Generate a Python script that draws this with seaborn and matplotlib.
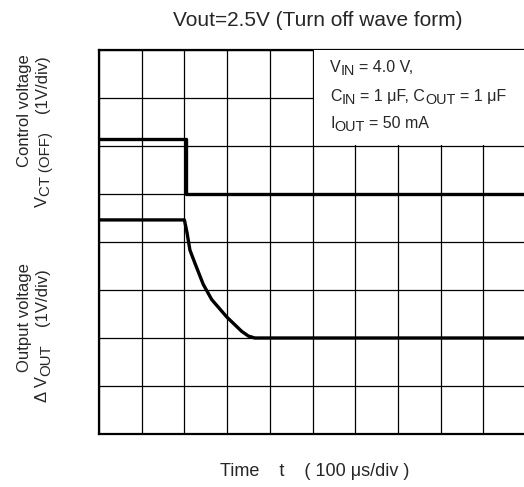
import matplotlib
matplotlib.use("Agg")
import matplotlib.pyplot as plt
import seaborn as sns
import pandas as pd
from matplotlib.patches import Rectangle

# ---- data (divisions) ----
ctrl_t = [0.0, 2.04, 2.04, 10.0]
ctrl_v = [6.15, 6.15, 5.0, 5.0]

out_t = [0.0, 2.0, 2.06, 2.13, 2.25, 2.44, 2.64, 2.99, 3.34, 3.5, 3.65, 10.0]
out_v = [4.46, 4.46, 4.2, 3.83, 3.55, 3.12, 2.8, 2.44, 2.14, 2.04, 2.0, 2.0]

title = "Vout=2.5V (Turn off wave form)"
xlabel = "Time    t    ( 100 μs/div )"
cond_lines = [
    [("V", 0), ("IN", 1), (" = 4.0 V,", 0)],
    [("C", 0), ("IN", 1), (" = 1 μF, C", 0), ("OUT", 1), (" = 1 μF", 0)],
    [("I", 0), ("OUT", 1), (" = 50 mA", 0)],
]
ylab_ctrl_1 = [("Control voltage", 0)]
ylab_ctrl_2 = [("V", 0), ("CT (OFF)", 1), ("    (1V/div)", 0)]
ylab_out_1 = [("Output voltage", 0)]
ylab_out_2 = [("Δ V", 0), ("OUT", 1), ("    (1V/div)", 0)]

sns.set_theme(style="white")
plt.rcParams["font.family"] = ["Liberation Sans", "DejaVu Sans"]

W, H = 524, 487
fig = plt.figure(figsize=(W / 100, H / 100), dpi=100)
ax = fig.add_axes([99 / W, (H - 434) / H, 427 / W, 384 / H])

df_c = pd.DataFrame({"t": ctrl_t, "v": ctrl_v})
df_o = pd.DataFrame({"t": out_t, "v": out_v})
sns.lineplot(data=df_c, x="t", y="v", ax=ax, color="black", lw=2.4, sort=False,
             estimator=None, zorder=5)
sns.lineplot(data=df_o, x="t", y="v", ax=ax, color="black", lw=2.4, sort=False,
             estimator=None, zorder=5)

ax.set_xlim(0, 10)
ax.set_ylim(0, 8)
ax.set_xticks(range(11))
ax.set_yticks(range(9))
ax.set_xticklabels([])
ax.set_yticklabels([])
ax.tick_params(length=0)
ax.grid(True, color="black", lw=0.9)
ax.set_xlabel("")
ax.set_ylabel("")
for s in ["left", "top", "bottom"]:
    ax.spines[s].set_visible(True)
    ax.spines[s].set_color("black")
    ax.spines[s].set_linewidth(1.6)
ax.spines["right"].set_visible(False)

ax.add_patch(Rectangle((5.04, 6.03), 5.0, 2.0, facecolor="white",
                       edgecolor="none", zorder=3))

renderer = fig.canvas.get_renderer()


def measure(s, size):
    if not s:
        return 0.0
    t1 = fig.text(0, 0, "|" + s + "|", fontsize=size)
    t2 = fig.text(0, 0, "||", fontsize=size)
    w = t1.get_window_extent(renderer).width - t2.get_window_extent(renderer).width
    t1.remove()
    t2.remove()
    return w


def rich(pieces, x0, y0, size, rot=0, align="left", sub_scale=0.9, drop=3.0):
    """x0, y0 in pixels from top-left; y0 = baseline (rot 0) / x0 = baseline (rot 90)."""
    sizes = [size * (sub_scale if sub else 1.0) for _, sub in pieces]
    widths = [measure(s, sz) for (s, _), sz in zip(pieces, sizes)]
    total = sum(widths)
    pos = -total / 2 if align == "center" else 0.0
    if rot == 0:
        d, dn = (1, 0), (0, -1)
    else:
        d, dn = (0, 1), (1, 0)
    for (s, sub), w, sz in zip(pieces, widths, sizes):
        lead = len(s) - len(s.lstrip())
        p = pos + measure(s[:lead], sz)
        off = drop if sub else 0.0
        X = x0 + d[0] * p + dn[0] * off
        Y = (H - y0) + d[1] * p + dn[1] * off
        if s.strip():
            fig.text(X / W, Y / H, s.strip(), fontsize=sz, rotation=rot,
                     rotation_mode="anchor", ha="left", va="baseline")
        pos += w


for pcs, yb in zip(cond_lines, [72, 101, 128]):
    rich(pcs, 330, yb, 11.5)

fig.text(318 / W, 1 - 20 / H, title, fontsize=15, ha="center", va="center")
fig.text(315 / W, 1 - 471 / H, xlabel, fontsize=13, ha="center", va="center")

rich(ylab_ctrl_1, 28.5, 111, 12, rot=90, align="center")
rich(ylab_ctrl_2, 47, 131, 12, rot=90, align="center")
rich(ylab_out_1, 28.5, 318, 12, rot=90, align="center")
rich(ylab_out_2, 47, 335, 12, rot=90, align="center")

fig.savefig("out.png", dpi=100)
